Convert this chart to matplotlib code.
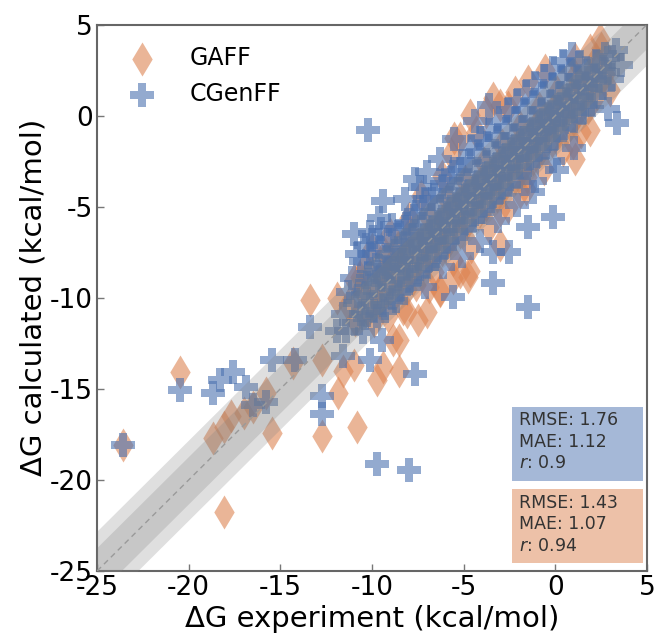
import numpy as np
import matplotlib
matplotlib.use("Agg")
import matplotlib.pyplot as plt
from matplotlib.patches import Rectangle

plt.rcParams["axes.unicode_minus"] = False

BLUE = "#4C72B0"
ORANGE = "#DD8452"

# (experiment, calculated) pairs
gaff_points = [
    # outliers
    (-20.5, -14.1), (-23.6, -18.1), (-18.1, -21.75), (-18.7, -17.7), (-18.1, -17.1),
    (-17.7, -16.5), (-17.0, -16.3), (-16.5, -16.0), (-15.8, -15.2), (-15.45, -17.4),
    (-14.3, -13.6), (-12.7, -13.4), (-11.85, -15.2), (-12.7, -17.6), (-10.8, -17.1),
    (-11.6, -14.0), (-11.0, -13.7), (-9.7, -14.5), (-9.4, -13.8), (-8.5, -14.0),
    (-8.85, -12.3), (-13.4, -10.1), (-11.9, -10.0), (-11.0, -9.0), (-5.2, -1.2),
    (-4.65, 0.05), (-3.0, 0.6), (-2.6, 0.5), (0.97, -1.5), (-7.0, -10.8),
    (-8.5, -12.3), (-8.1, -10.8), (-7.5, -11.2), (-4.75, -8.85), (-5.2, -8.6),
    (-6.3, -9.55), (-6.9, -9.4), (-3.0, -5.2), (-1.55, -3.35), (-1.9, -4.2),
    (-10.65, -8.85),
    # dense core
    (-11.3, -10.4), (-10.9, -11.2), (-10.6, -9.5), (-10.2, -10.7), (-10.4, -8.3),
    (-9.8, -9.6), (-9.9, -11.3), (-9.5, -8.7), (-9.6, -10.3), (-9.1, -9.1),
    (-9.3, -7.6), (-8.8, -9.9), (-8.9, -8.1), (-8.4, -8.8), (-8.6, -7.2),
    (-8.1, -9.5), (-8.2, -7.7), (-7.8, -8.6), (-7.9, -6.4), (-7.4, -7.6),
    (-7.6, -9.3), (-7.1, -6.8), (-7.2, -8.2), (-6.8, -7.7), (-6.9, -5.6),
    (-6.4, -6.6), (-6.6, -8.6), (-6.1, -5.7), (-6.2, -7.4), (-5.8, -6.9),
    (-5.9, -4.6), (-5.4, -5.6), (-5.6, -7.9), (-5.1, -4.7), (-5.2, -6.4),
    (-4.8, -5.9), (-4.9, -3.6), (-4.4, -4.6), (-4.6, -7.2), (-4.1, -3.7),
    (-4.2, -5.4), (-3.8, -4.9), (-3.9, -2.6), (-3.4, -3.6), (-3.6, -6.1),
    (-3.1, -2.7), (-3.2, -4.4), (-2.8, -3.9), (-2.9, -1.6), (-2.4, -2.6),
    (-2.6, -5.0), (-2.1, -1.7), (-2.2, -3.4), (-1.8, -2.9), (-1.9, -0.6),
    (-1.4, -1.6), (-1.6, -4.0), (-1.1, -0.7), (-1.2, -2.4), (-0.8, -1.9),
    (-0.9, 0.4), (-0.4, -0.6), (-0.6, -2.9), (-0.1, 0.3), (-0.2, -1.4),
    (0.2, -0.9), (0.1, 1.3), (0.6, 0.4), (0.4, -1.9), (0.9, 1.2),
    (0.8, -0.5), (1.2, 0.1), (1.1, 2.2), (1.6, 1.3), (1.4, -0.9),
    (1.9, 2.1), (1.8, 0.4), (2.3, 1.2), (2.2, 3.1), (2.7, 2.3),
    (2.5, 3.7), (3.0, 1.4), (1.9, 3.6), (1.1, 3.1), (-0.55, 2.5), (2.45, 4.2),
    # upper edge of the cloud
    (-6.2, -3.3), (-5.7, -2.1), (-5.5, -1.2), (-4.3, -0.9), (-3.8, 0.2),
    (-3.4, 1.0), (-2.2, 1.3), (-1.5, 1.9), (-7.3, -4.4), (-8.0, -5.6),
    (-9.0, -6.5), (-10.0, -7.3),
    # lower edge of the cloud
    (-6.3, -9.6), (-4.65, -8.5), (-3.0, -7.1), (1.1, -2.4), (1.9, -0.8),
    (-5.6, -8.9), (-9.1, -11.0), (-8.3, -10.6),
]

cgenff_points = [
    # outliers
    (-10.2, -0.8), (2.9, 0.35), (3.4, -0.4), (-7.65, -3.5), (-7.0, -3.1),
    (-9.4, -4.7), (-11.0, -6.5), (-10.1, -6.4), (0.1, -3.0), (-1.2, -4.2),
    (-0.1, -5.55), (-1.5, -6.1), (-2.5, -7.5), (-3.4, -7.5), (-3.4, -9.2),
    (-1.5, -10.5), (-5.6, -9.95), (1.0, -1.75), (-13.4, -11.6), (-11.9, -11.8),
    (-10.1, -13.4), (-7.65, -14.2), (-12.7, -15.4), (-11.6, -13.2), (-20.5, -15.05),
    (-18.7, -15.2), (-18.3, -14.5), (-17.6, -14.1), (-16.9, -14.9), (-16.5, -15.9),
    (-15.8, -15.7), (-15.45, -13.4), (-14.2, -13.4), (-12.7, -16.4), (-9.45, -12.3),
    (-9.7, -19.1), (-8.0, -19.45), (-23.6, -18.1),
    # dense core
    (-11.6, -10.9), (-11.3, -9.7), (-11.4, -11.8), (-10.9, -10.3), (-11.1, -8.9),
    (-10.7, -11.4), (-10.8, -7.6), (-10.4, -9.8), (-10.6, -10.9), (-10.2, -8.7),
    (-10.5, -11.9), (-10.3, -7.1), (-9.9, -9.3), (-10.1, -10.4), (-9.8, -8.2),
    (-9.7, -11.0), (-10.0, -6.8), (-9.6, -8.9), (-9.4, -9.0), (-9.5, -9.9),
    (-9.2, -7.8), (-9.3, -10.7), (-9.1, -8.4), (-9.5, -6.2), (-8.9, -8.5),
    (-9.0, -9.4), (-8.8, -7.3), (-8.7, -10.2), (-8.9, -6.0), (-8.4, -7.9),
    (-8.6, -8.8), (-8.3, -7.0), (-8.5, -9.7), (-8.2, -6.1), (-8.4, -8.3),
    (-7.9, -7.5), (-8.1, -8.4), (-7.8, -6.6), (-8.0, -9.2), (-7.7, -5.5),
    (-8.1, -7.9), (-7.4, -6.9), (-7.6, -7.8), (-7.3, -6.1), (-7.5, -8.7),
    (-7.2, -5.0), (-7.4, -7.3), (-6.9, -6.4), (-7.1, -7.3), (-6.8, -5.5),
    (-7.0, -8.3), (-6.7, -4.6), (-6.9, -6.8), (-7.1, -9.4), (-6.4, -5.9),
    (-6.6, -6.9), (-6.3, -5.0), (-6.5, -7.7), (-6.2, -3.9), (-6.4, -6.3),
    (-5.9, -5.4), (-6.1, -6.4), (-5.8, -4.5), (-6.0, -7.2), (-5.7, -3.4),
    (-5.9, -5.8), (-6.1, -8.3), (-5.4, -4.9), (-5.6, -5.8), (-5.3, -4.0),
    (-5.5, -6.8), (-5.2, -2.9), (-5.4, -5.3), (-4.9, -4.4), (-5.1, -5.3),
    (-4.8, -3.6), (-5.0, -6.2), (-4.7, -2.5), (-4.9, -4.8), (-5.1, -7.7),
    (-4.4, -3.9), (-4.6, -4.9), (-4.3, -3.1), (-4.5, -5.7), (-4.2, -2.0),
    (-4.4, -4.3), (-3.9, -3.4), (-4.1, -4.4), (-3.8, -2.6), (-4.0, -5.3),
    (-3.7, -1.5), (-3.9, -3.8), (-4.1, -6.9), (-3.4, -2.9), (-3.6, -3.9),
    (-3.3, -2.1), (-3.5, -4.7), (-3.2, -1.1), (-3.4, -3.3), (-2.9, -2.4),
    (-3.1, -3.4), (-2.8, -1.6), (-3.0, -4.2), (-2.7, -0.6), (-2.9, -2.9),
    (-3.1, -5.8), (-2.4, -1.9), (-2.6, -2.9), (-2.3, -1.1), (-2.5, -3.8),
    (-2.2, -0.2), (-2.4, -2.4), (-1.9, -1.4), (-2.1, -2.3), (-1.8, -0.7),
    (-2.0, -3.3), (-1.7, 0.3), (-1.9, -1.9), (-2.1, -4.9), (-1.4, -0.9),
    (-1.6, -1.9), (-1.3, -0.2), (-1.5, -2.7), (-1.2, 0.7), (-1.4, -1.4),
    (-0.9, -0.4), (-1.1, -1.4), (-0.8, 0.3), (-1.0, -2.2), (-0.7, 1.2),
    (-0.9, -0.9), (-1.1, -3.6), (-0.4, 0.1), (-0.6, -0.8), (-0.3, 0.8),
    (-0.5, -1.7), (-0.2, 1.7), (-0.4, -0.4), (0.1, 0.5), (-0.1, -0.4),
    (0.2, 1.2), (0.0, -1.2), (0.3, 2.1), (0.1, 0.1), (-0.1, -2.5),
    (0.6, 0.9), (0.4, 0.1), (0.7, 1.7), (0.5, -0.7), (0.8, 2.5),
    (1.1, 1.3), (0.9, 0.5), (1.2, 2.1), (1.0, -0.3), (1.3, 2.9),
    (1.6, 1.8), (1.4, 1.0), (1.7, 2.6), (1.5, 0.2), (2.1, 2.2),
    (1.9, 1.5), (2.2, 3.0), (2.0, 0.6), (2.6, 2.7), (2.4, 1.9),
    (2.7, 3.4), (3.1, 3.2), (2.9, 2.4), (3.3, 3.6), (3.6, 2.8),
    (-10.75, -9.9), (-10.25, -9.2), (-9.75, -8.6), (-9.25, -8.3), (-8.75, -7.9),
    (-8.25, -7.4), (-7.75, -7.0), (-7.25, -6.6), (-6.75, -6.1), (-6.25, -5.7),
    (-5.75, -5.1), (-5.25, -4.6), (-4.75, -4.2), (-4.25, -3.7), (-3.75, -3.2),
    (-3.25, -2.7), (-2.75, -2.2), (-2.25, -1.7), (-1.75, -1.2), (-1.25, -0.8),
    (-0.75, -0.3), (-0.25, 0.2), (0.25, 0.6), (0.75, 1.1), (1.25, 1.6),
    (1.75, 2.0), (2.25, 2.5),
    (-10.6, -8.0), (-10.1, -7.6), (-9.6, -7.2), (-9.1, -6.8), (-8.6, -6.4),
    (-8.1, -5.9), (-7.6, -5.3), (-7.1, -4.6), (-6.6, -4.2), (-6.1, -3.6),
    (-5.6, -3.1), (-5.1, -2.5), (-4.6, -1.7), (-4.1, -1.2), (-3.6, -0.8),
    (-3.1, -0.3), (-2.6, 0.3), (-2.1, 0.8), (-1.6, 1.3), (-1.1, 1.8),
    (-0.6, 2.2), (-0.1, 2.6), (0.4, 3.0), (0.9, 3.4),
    (-10.4, -11.1), (-9.9, -10.7), (-9.4, -10.4), (-8.9, -10.0), (-8.4, -9.5),
    (-7.9, -9.0), (-7.4, -8.4), (-6.9, -7.9), (-6.4, -7.4), (-5.9, -6.9),
    (-5.4, -6.4), (-4.9, -5.9), (-4.4, -5.4), (-3.9, -4.9), (-3.4, -4.4),
    (-2.9, -3.9), (-2.4, -3.3), (-1.9, -2.8), (-1.4, -2.3), (-0.9, -1.8),
    (-0.4, -1.3), (0.1, -0.8), (0.6, -0.2), (1.1, 0.2), (1.6, 0.6),
    (2.1, 1.1), (2.6, 1.5), (3.1, 2.0),
    # upper edge of the cloud
    (-5.5, -1.3), (-6.3, -2.4), (-4.4, -0.3), (-3.6, 0.6), (-7.4, -3.9),
    (-8.2, -4.6), (-9.6, -5.6),
]

gaff_stats = [1.43, 1.07, 0.94]    # RMSE, MAE, r
cgenff_stats = [1.76, 1.12, 0.9]

band_inner = 1.3   # kcal/mol
band_outer = 2.2
lims = [-25, 5]
ticks = [-25, -20, -15, -10, -5, 0, 5]

gaff = np.array(gaff_points)
cgenff = np.array(cgenff_points)

fig = plt.figure(figsize=(6.56, 6.33), dpi=100)
ax = fig.add_axes([0.148, 0.098, 0.838, 0.863])

ax.scatter(gaff[:, 0], gaff[:, 1], marker="d", s=300, color=ORANGE, alpha=0.6,
           linewidths=0, label="GAFF", zorder=2)
ax.scatter(cgenff[:, 0], cgenff[:, 1], marker="P", s=280, color=BLUE, alpha=0.6,
           linewidths=0, label="CGenFF", zorder=3)

# shaded error bands around y = x, drawn over the points
xs = np.array(lims, dtype=float)
ax.fill_between(xs, xs - band_outer, xs + band_outer, color="gray", alpha=0.25,
                linewidth=0, zorder=4)
ax.fill_between(xs, xs - band_inner, xs + band_inner, color="gray", alpha=0.25,
                linewidth=0, zorder=4)
ax.plot(xs, xs, ls=(0, (4, 3)), color="#9a9a9a", lw=1, zorder=5)

ax.set_xlim(lims)
ax.set_ylim(lims)
ax.set_xticks(ticks)
ax.set_yticks(ticks)
ax.tick_params(direction="in", length=5, width=1, color="#777777",
               labelsize=19, pad=3)
for sp in ax.spines.values():
    sp.set_color("#666666")
    sp.set_linewidth(1.5)

ax.set_xlabel("ΔG experiment (kcal/mol)", fontsize=21, labelpad=3)
ax.set_ylabel("ΔG calculated (kcal/mol)", fontsize=21, labelpad=2)

ax.legend(loc="upper left", frameon=False, fontsize=17, labelspacing=0.5,
          handletextpad=1.0, borderaxespad=0.5, bbox_to_anchor=(0.0, 1.0))

# statistics boxes
boxes = [(cgenff_stats, BLUE, 0.165), (gaff_stats, ORANGE, 0.0147)]
for stats, col, y0 in boxes:
    ax.add_patch(Rectangle((0.755, y0), 0.238, 0.135, transform=ax.transAxes,
                           facecolor=col, alpha=0.5, edgecolor="none", zorder=6))
    txt = f"RMSE: {stats[0]}\nMAE: {stats[1]}\n$r$: {stats[2]}"
    ax.text(0.767, y0 + 0.127, txt, transform=ax.transAxes, fontsize=12.5,
            color="#333333", va="top", ha="left", linespacing=1.25, zorder=7)

fig.savefig("out.png", dpi=100)
